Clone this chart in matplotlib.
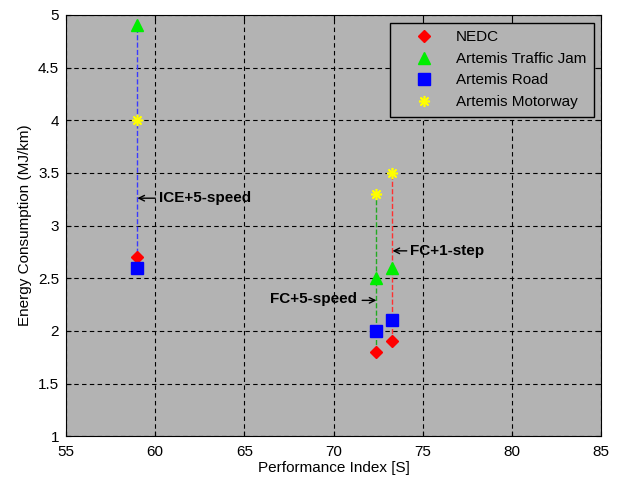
import matplotlib.pyplot as plt
from matplotlib.ticker import FormatStrFormatter

plt.rcParams['font.family'] = ['Liberation Sans', 'DejaVu Sans']

# Performance index of each configuration
configs = ['ICE+5-speed', 'FC+5-speed', 'FC+1-step']
perf = [59.0, 72.4, 73.3]

# Energy consumption (MJ/km) per cycle, per configuration
nedc = [2.7, 1.8, 1.9]
traffic_jam = [4.9, 2.5, 2.6]
road = [2.6, 2.0, 2.1]
motorway = [4.0, 3.3, 3.5]

line_colors = ['#3a3aff', '#22aa22', '#ff3030']

fig = plt.figure(figsize=(6.23, 4.82), dpi=100)
ax = fig.add_axes([0.106, 0.095, 0.859, 0.874])
ax.set_facecolor('#b3b3b3')

# dashed vertical lines linking the points of one configuration
for i in range(len(perf)):
    vals = [nedc[i], traffic_jam[i], road[i], motorway[i]]
    ax.plot([perf[i], perf[i]], [min(vals), max(vals)], '--', color=line_colors[i],
            lw=1, zorder=2)

ax.plot(perf, nedc, 'D', color='red', ms=6.5, ls='none', label='NEDC', zorder=3)
ax.plot(perf, traffic_jam, '^', color='#00ee00', ms=8.5, ls='none',
        label='Artemis Traffic Jam', zorder=3)
ax.plot(perf, road, 's', color='blue', ms=8, ls='none', label='Artemis Road', zorder=3)
ax.plot(perf, motorway, marker=(8, 2, 0), color='yellow', ms=8, mew=1.2, ls='none',
        label='Artemis Motorway', zorder=3)

# labels with short arrows pointing at each configuration's line
arrow = dict(arrowstyle='->', color='black', lw=1, shrinkA=0, shrinkB=0)
ax.annotate('', xy=(59.0, 3.26), xytext=(60.0, 3.26), arrowprops=arrow)
ax.text(60.2, 3.26, configs[0], fontsize=11, fontweight='bold', va='center')
ax.annotate('', xy=(72.4, 2.29), xytext=(71.6, 2.29), arrowprops=arrow)
ax.text(71.3, 2.30, configs[1], fontsize=11, fontweight='bold', va='center', ha='right')
ax.annotate('', xy=(73.3, 2.76), xytext=(74.1, 2.76), arrowprops=arrow)
ax.text(74.3, 2.76, configs[2], fontsize=11, fontweight='bold', va='center')

ax.set_xlim(55, 85)
ax.set_ylim(1, 5)
ax.set_xticks(range(55, 86, 5))
ax.set_yticks([1, 1.5, 2, 2.5, 3, 3.5, 4, 4.5, 5])
ax.yaxis.set_major_formatter(FormatStrFormatter('%g'))
ax.grid(True, color='black', ls=(0, (4, 3)), lw=0.8)
ax.tick_params(direction='in', labelsize=11, top=True, right=True)
ax.tick_params(axis='x', pad=6)
ax.tick_params(axis='y', pad=5)
ax.set_xlabel('Performance Index [S]', fontsize=11, labelpad=2)
ax.set_ylabel('Energy Consumption (MJ/km)', fontsize=11)

leg = ax.legend(loc='upper right', fancybox=False, fontsize=11, framealpha=1,
                borderpad=0.5, labelspacing=0.5, handlelength=3.5, handletextpad=0.3)
leg.get_frame().set_facecolor('#b3b3b3')
leg.get_frame().set_edgecolor('black')

fig.savefig('out.png', dpi=100)
